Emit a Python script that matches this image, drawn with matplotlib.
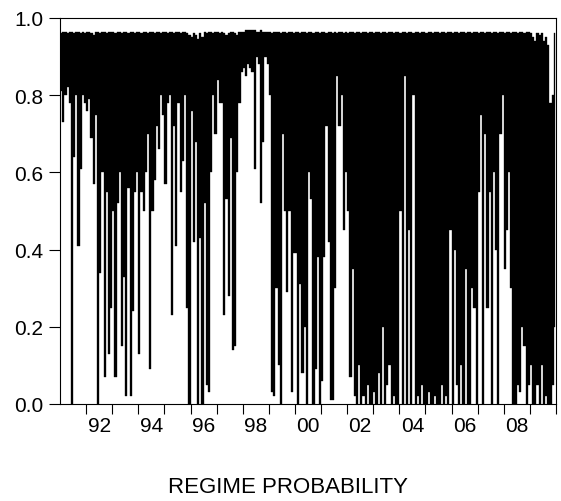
import matplotlib
matplotlib.use("Agg")
import matplotlib.pyplot as plt
import numpy as np
from matplotlib.ticker import FixedLocator, NullFormatter, FixedFormatter

# Monthly sample, Jan 1991 .. Dec 2009
start_year = 1991
end_year = 2010

# Lowest regime probability reached within each month
monthly_low = [
    0.81, 0.73, 0.80, 0.82, 0.78, 0.00, 0.64, 0.80, 0.41, 0.61,
    0.80, 0.78, 0.76, 0.79, 0.69, 0.57, 0.75, 0.00, 0.34, 0.60,
    0.07, 0.55, 0.13, 0.25, 0.50, 0.07, 0.52, 0.60, 0.15, 0.33,
    0.02, 0.56, 0.02, 0.24, 0.55, 0.60, 0.13, 0.55, 0.50, 0.60,
    0.70, 0.09, 0.50, 0.58, 0.72, 0.66, 0.80, 0.75, 0.57, 0.78,
    0.80, 0.23, 0.72, 0.41, 0.78, 0.55, 0.63, 0.80, 0.25, 0.00,
    0.76, 0.42, 0.68, 0.00, 0.43, 0.00, 0.52, 0.05, 0.03, 0.60,
    0.80, 0.70, 0.84, 0.78, 0.78, 0.23, 0.53, 0.28, 0.69, 0.14,
    0.15, 0.60, 0.78, 0.86, 0.87, 0.85, 0.88, 0.87, 0.86, 0.61,
    0.90, 0.88, 0.52, 0.68, 0.90, 0.88, 0.80, 0.03, 0.02, 0.30,
    0.10, 0.00, 0.70, 0.50, 0.29, 0.50, 0.03, 0.39, 0.39, 0.00,
    0.31, 0.08, 0.20, 0.00, 0.60, 0.53, 0.00, 0.09, 0.38, 0.00,
    0.06, 0.38, 0.72, 0.42, 0.01, 0.01, 0.30, 0.85, 0.72, 0.80,
    0.45, 0.60, 0.50, 0.07, 0.35, 0.02, 0.00, 0.10, 0.00, 0.02,
    0.00, 0.05, 0.00, 0.00, 0.03, 0.00, 0.08, 0.00, 0.20, 0.00,
    0.05, 0.10, 0.00, 0.02, 0.00, 0.00, 0.50, 0.00, 0.85, 0.00,
    0.45, 0.00, 0.80, 0.00, 0.02, 0.00, 0.05, 0.00, 0.00, 0.03,
    0.00, 0.00, 0.02, 0.00, 0.00, 0.05, 0.00, 0.02, 0.00, 0.45,
    0.00, 0.40, 0.05, 0.00, 0.10, 0.00, 0.35, 0.00, 0.00, 0.30,
    0.25, 0.00, 0.55, 0.75, 0.00, 0.70, 0.25, 0.55, 0.00, 0.60,
    0.40, 0.00, 0.70, 0.80, 0.35, 0.45, 0.60, 0.30, 0.00, 0.00,
    0.05, 0.03, 0.20, 0.15, 0.00, 0.05, 0.10, 0.00, 0.00, 0.05,
    0.00, 0.10, 0.00, 0.02, 0.00, 0.00, 0.05, 0.20,
]

# Highest regime probability reached within each month
monthly_high = [
    0.96, 0.965, 0.965, 0.96, 0.965, 0.965, 0.96, 0.965, 0.965, 0.96,
    0.965, 0.96, 0.965, 0.965, 0.96, 0.955, 0.965, 0.965, 0.96, 0.965,
    0.965, 0.96, 0.965, 0.965, 0.965, 0.96, 0.965, 0.965, 0.96, 0.965,
    0.965, 0.96, 0.965, 0.965, 0.96, 0.965, 0.965, 0.96, 0.965, 0.965,
    0.96, 0.965, 0.965, 0.96, 0.965, 0.965, 0.96, 0.965, 0.965, 0.96,
    0.965, 0.965, 0.96, 0.965, 0.965, 0.96, 0.965, 0.965, 0.96, 0.955,
    0.95, 0.96, 0.955, 0.945, 0.96, 0.95, 0.965, 0.96, 0.965, 0.965,
    0.96, 0.965, 0.965, 0.96, 0.965, 0.96, 0.955, 0.96, 0.965, 0.965,
    0.96, 0.955, 0.965, 0.965, 0.965, 0.97, 0.97, 0.97, 0.97, 0.97,
    0.965, 0.965, 0.97, 0.965, 0.965, 0.965, 0.965, 0.96, 0.965, 0.965,
    0.965, 0.96, 0.965, 0.965, 0.96, 0.965, 0.965, 0.96, 0.965, 0.965,
    0.96, 0.965, 0.965, 0.96, 0.965, 0.965, 0.96, 0.965, 0.965, 0.96,
    0.965, 0.965, 0.96, 0.965, 0.965, 0.96, 0.965, 0.96, 0.965, 0.965,
    0.96, 0.965, 0.96, 0.965, 0.965, 0.96, 0.965, 0.965, 0.96, 0.965,
    0.965, 0.96, 0.965, 0.965, 0.96, 0.965, 0.965, 0.96, 0.965, 0.965,
    0.96, 0.965, 0.965, 0.96, 0.965, 0.965, 0.96, 0.965, 0.965, 0.96,
    0.965, 0.965, 0.96, 0.965, 0.965, 0.96, 0.965, 0.965, 0.96, 0.965,
    0.965, 0.96, 0.965, 0.965, 0.96, 0.965, 0.965, 0.96, 0.965, 0.965,
    0.96, 0.965, 0.965, 0.96, 0.965, 0.965, 0.96, 0.965, 0.965, 0.96,
    0.965, 0.965, 0.96, 0.965, 0.965, 0.96, 0.965, 0.965, 0.96, 0.965,
    0.965, 0.96, 0.965, 0.965, 0.96, 0.965, 0.965, 0.96, 0.965, 0.965,
    0.96, 0.965, 0.965, 0.96, 0.965, 0.965, 0.96, 0.95, 0.94, 0.96,
    0.955, 0.96, 0.94, 0.95, 0.93, 0.78, 0.80, 0.96,
]

year_labels = ["92", "94", "96", "98", "00", "02", "04", "06", "08"]
label_years = [1992, 1994, 1996, 1998, 2000, 2002, 2004, 2006, 2008]
title_text = "REGIME PROBABILITY"

n = min(len(monthly_low), len(monthly_high))
lows = np.asarray(monthly_low[:n])
highs = np.asarray(monthly_high[:n])
t_mid = start_year + (np.arange(n) + 0.5) / 12.0

plt.rcParams['font.family'] = ['Liberation Sans', 'DejaVu Sans']

W, H = 561, 502
fig = plt.figure(figsize=(W / 100, H / 100), dpi=100)
ax = fig.add_axes([60 / W, (H - 405) / H, (556 - 60) / W, (405 - 19) / H])

# range swept by the daily probability line within each month
ax.fill_between(t_mid, lows, highs, step='mid', facecolor='black',
                edgecolor='black', linewidth=0.25)

ax.set_xlim(start_year, end_year)
ax.set_ylim(0.0, 1.0)

ax.set_yticks([0.0, 0.2, 0.4, 0.6, 0.8, 1.0])
ax.set_yticklabels(["0.0", "0.2", "0.4", "0.6", "0.8", "1.0"])

ax.xaxis.set_major_locator(FixedLocator(list(range(start_year + 1, end_year + 1))))
ax.xaxis.set_major_formatter(NullFormatter())
ax.xaxis.set_minor_locator(FixedLocator([y + 0.5 for y in label_years]))
ax.xaxis.set_minor_formatter(FixedFormatter(year_labels))

ax.tick_params(axis='y', which='major', direction='out', length=8, width=0.8,
               labelsize=15, pad=4)
ax.tick_params(axis='x', which='major', direction='out', length=7, width=0.8)
ax.tick_params(axis='x', which='minor', length=0, labelsize=15, pad=9)

for s in ax.spines.values():
    s.set_linewidth(0.8)

fig.text(288 / W, 9 / H, title_text, ha='center', va='baseline', fontsize=16)

fig.savefig("out.png", dpi=100)
